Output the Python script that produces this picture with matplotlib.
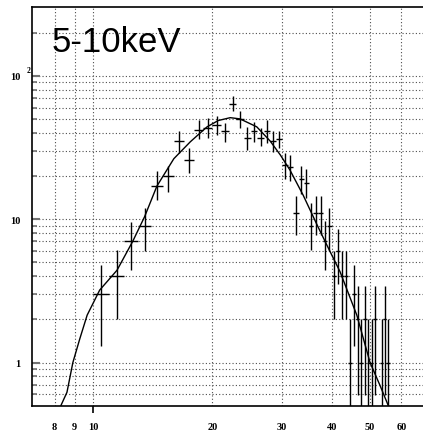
import numpy as np
import matplotlib
matplotlib.use("Agg")
import matplotlib.pyplot as plt
from matplotlib.ticker import FixedLocator, FixedFormatter

# spectrum bins (keV), counts and error-bar extents
energy = [10.5, 11.5, 12.5, 13.5, 14.5, 15.5, 16.5, 17.5, 18.5, 19.5,
          20.5, 21.5, 22.5, 23.5, 24.5, 25.5, 26.5, 27.5, 28.5, 29.5,
          30.5, 31.5, 32.5, 33.5, 34.5, 35.5, 36.5, 37.5, 38.5, 39.5,
          40.5, 41.5, 42.5, 43.5, 44.5, 45.5, 46.5, 47.5, 48.5, 49.5,
          50.5, 51.5, 53.5, 54.5, 55.5]
counts = [3, 4, 7, 9, 17, 20, 35, 26, 42, 43,
          45, 41, 64, 50, 37, 41, 37, 41, 35, 36,
          24, 23, 11, 19, 18, 9, 11, 11, 7, 9,
          4, 6, 4, 4, 1, 3, 2, 1, 2, 1,
          1, 2, 1, 2, 1]
err_low = [1.3, 2.0, 4.4, 6.0, 13.5, 15.5, 29.0, 21.0, 36.0, 37.0,
           38.4, 34.6, 56.8, 43.3, 30.4, 34.3, 32.5, 33.7, 29.5, 31.4,
           19.2, 18.5, 7.7, 14.9, 14.0, 6.1, 7.7, 7.7, 4.4, 6.0,
           2.0, 3.55, 2.0, 2.0, 0.1, 1.3, 0.59, 0.1, 0.59, 0.1,
           0.1, 0.59, 0.1, 0.59, 0.1]
err_high = [4.8, 6.1, 9.6, 12.0, 21.6, 23.5, 41.0, 31.3, 49.0, 50.5,
            52.0, 47.0, 72.5, 56.8, 44.0, 47.8, 42.9, 49.0, 41.0, 41.0,
            28.7, 27.9, 14.5, 23.5, 22.5, 13.0, 14.5, 14.5, 9.7, 12.0,
            6.0, 8.5, 6.0, 6.0, 2.0, 4.8, 3.4, 2.0, 3.4, 2.0,
            2.0, 3.4, 2.0, 3.4, 2.0]
bin_half = 0.5

# model curve
model_e = [8.3, 8.6, 8.9, 9.27, 9.67, 10.4, 11.5, 12.6, 13.5, 14.5,
           16.0, 17.6, 19.4, 20.7, 22.2, 23.5, 25.9, 28.0, 29.7, 31.4,
           33.9, 36.7, 38.9, 42.0, 46.3, 50.0, 53.0, 55.6]
model_c = [0.5, 0.62, 1.0, 1.47, 2.14, 3.2, 4.4, 7.0, 10.4, 17.0,
           26.4, 34.6, 44.0, 48.7, 51.0, 50.0, 44.0, 35.0, 28.0, 22.0,
           14.7, 9.2, 6.6, 4.3, 2.14, 1.0, 0.69, 0.5]

x_major = [10]
x_minor = [8, 9, 20, 30, 40, 50, 60]
y_major = [1, 10, 100]
y_minor = [0.6, 0.7, 0.8, 0.9, 2, 3, 4, 5, 6, 7, 8, 9,
           20, 30, 40, 50, 60, 70, 80, 90, 200]

fig = plt.figure(figsize=(4.23, 4.31), dpi=100)
ax = fig.add_axes([0.0745, 0.0564, 0.9255, 0.9243])
ax.set_xscale("log")
ax.set_yscale("log")
ax.set_xlim(7, 68)
ax.set_ylim(0.5, 300)

e = np.array(energy)
c = np.array(counts)
yerr = [c - np.array(err_low), np.array(err_high) - c]
ax.errorbar(e, c, xerr=bin_half, yerr=yerr, fmt="none", ecolor="black",
            elinewidth=1.0, capsize=0)
ax.plot(model_e, model_c, color="black", lw=1.0)

tick_font = dict(family="Liberation Serif", weight="bold", size=7.5)

ax.xaxis.set_major_locator(FixedLocator(x_major))
ax.xaxis.set_minor_locator(FixedLocator(x_minor))
ax.xaxis.set_major_formatter(FixedFormatter([str(v) for v in x_major]))
ax.xaxis.set_minor_formatter(FixedFormatter([str(v) for v in x_minor]))
ax.tick_params(axis="x", which="major", direction="out", length=5, width=1.2, pad=6.5)
ax.tick_params(axis="x", which="minor", direction="in", length=0, pad=11.5)

ax.yaxis.set_major_locator(FixedLocator(y_major))
ax.yaxis.set_minor_locator(FixedLocator(y_minor))
ax.yaxis.set_major_formatter(FixedFormatter(["1", "10", "10"]))
ax.yaxis.set_minor_formatter(FixedFormatter([""] * len(y_minor)))
ax.tick_params(axis="y", which="major", direction="in", length=6, width=1.5,
               color="0.45", pad=7.8)
ax.tick_params(axis="y", which="minor", direction="in", length=3.5, width=1.2,
               color="0.45")

for lab in ax.get_xticklabels(which="both") + ax.get_yticklabels(which="both"):
    lab.set_fontproperties(tick_font)
    lab.set_fontsize(7.5)

# exponent on the 10^2 label
ax.annotate("2", xy=(0, 100), xycoords=ax.get_yaxis_transform(),
            xytext=(-3.5, 1.5), textcoords="offset points",
            ha="left", va="bottom", fontsize=5.5,
            family="Liberation Serif", weight="bold")

ax.grid(True, which="both", linestyle=(0, (1, 2)), color="0.3", lw=0.8)
ax.set_axisbelow(True)

for side in ["left", "bottom", "top"]:
    ax.spines[side].set_linewidth(1.2)
ax.spines["right"].set_visible(False)

fig.text(51.7 / 423, 1 - 51.7 / 431, "5-10keV", family="Liberation Sans",
         fontsize=25, ha="left", va="baseline")

fig.savefig("out.png", dpi=100)
